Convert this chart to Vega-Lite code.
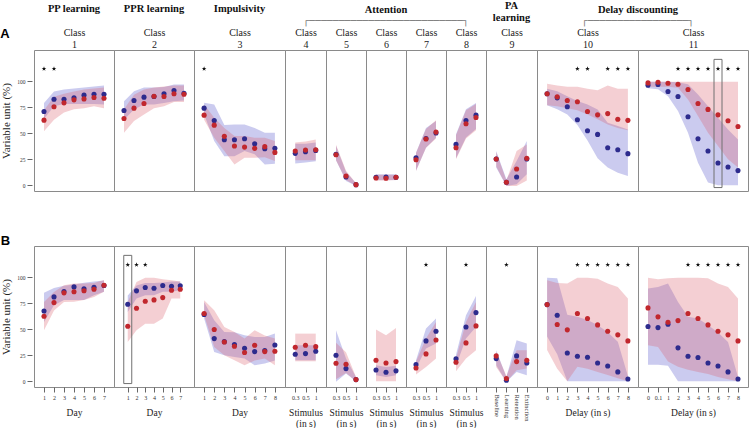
{
"$schema": "https://vega.github.io/schema/vega-lite/v6.json",
"padding": 0,
"background": "white",
"title": {"text": "A", "anchor": "start", "frame": "bounds", "font": "Liberation Sans", "fontSize": 13, "fontWeight": "bold", "color": "#000", "offset": -41},
"columns": 11,
"spacing": {"row": 55, "column": 0},
"bounds": "flush",
"config": {
 "view": {"stroke": "#8a8a8a", "strokeWidth": 1},
 "axis": {"labelFont": "Liberation Serif", "labelFontSize": 6, "labelColor": "#333", "tickColor": "#666", "tickSize": 5, "domain": false, "grid": false, "titleFont": "Liberation Serif", "titleFontSize": 9.5, "titleFontWeight": "normal", "titleColor": "#222", "labelPadding": 2, "titlePadding": 7, "labelFlush": false, "labelOverlap": false, "labelAngle": 0},
 "title": {"font": "Liberation Serif", "fontSize": 10.5, "fontWeight": "bold", "color": "#111", "anchor": "middle", "frame": "group", "offset": 13}
},
"datasets": {"d": [
{"r":"A","p":1,"day":1,"bm":70.9,"blo":64,"bhi":79,"rm":62.6,"rlo":52,"rhi":72,"s":1},
{"r":"A","p":1,"day":2,"bm":82.7,"blo":76,"bhi":90,"rm":75.4,"rlo":63,"rhi":85,"s":1},
{"r":"A","p":1,"day":3,"bm":82.7,"blo":78,"bhi":92,"rm":79.2,"rlo":70,"rhi":88},
{"r":"A","p":1,"day":4,"bm":84,"blo":78,"bhi":93,"rm":82.1,"rlo":73,"rhi":90},
{"r":"A","p":1,"day":5,"bm":86.6,"blo":78,"bhi":94,"rm":83,"rlo":74,"rhi":92},
{"r":"A","p":1,"day":6,"bm":87.5,"blo":78,"bhi":95,"rm":84.3,"rlo":76,"rhi":93},
{"r":"A","p":1,"day":7,"bm":87.5,"blo":77.6,"bhi":96,"rm":83.7,"rlo":74,"rhi":94},
{"r":"A","p":2,"day":1,"bm":71.9,"blo":63,"bhi":80.8,"rm":64.2,"rlo":50.5,"rhi":73},
{"r":"A","p":2,"day":2,"bm":81.5,"blo":72.8,"bhi":90.4,"rm":74.1,"rlo":61.7,"rhi":87},
{"r":"A","p":2,"day":3,"bm":84.7,"blo":77.6,"bhi":94,"rm":78.6,"rlo":68,"rhi":92},
{"r":"A","p":2,"day":4,"bm":85.3,"blo":77.6,"bhi":94,"rm":85.6,"rlo":74,"rhi":94},
{"r":"A","p":2,"day":5,"bm":87.9,"blo":79,"bhi":94.5,"rm":85.3,"rlo":76,"rhi":95},
{"r":"A","p":2,"day":6,"bm":91,"blo":80.8,"bhi":96.8,"rm":87.9,"rlo":80,"rhi":96},
{"r":"A","p":2,"day":7,"bm":88.5,"blo":81.5,"bhi":96.8,"rm":87.5,"rlo":80,"rhi":96},
{"r":"A","p":3,"day":1,"bm":74.1,"blo":68,"bhi":79.2,"rm":67.4,"rlo":63,"rhi":77.6,"s":1},
{"r":"A","p":3,"day":2,"bm":62.3,"blo":42.5,"bhi":77.6,"rm":57.8,"rlo":45.7,"rhi":64.9},
{"r":"A","p":3,"day":3,"bm":43.8,"blo":28,"bhi":58,"rm":47,"rlo":33,"rhi":55},
{"r":"A","p":3,"day":4,"bm":43.8,"blo":28,"bhi":58.5,"rm":37.7,"rlo":20,"rhi":47.3},
{"r":"A","p":3,"day":5,"bm":44.7,"blo":33,"bhi":58.5,"rm":36.7,"rlo":26.5,"rhi":47.3},
{"r":"A","p":3,"day":6,"bm":39.9,"blo":29.7,"bhi":55,"rm":35.5,"rlo":26.5,"rhi":45.7},
{"r":"A","p":3,"day":7,"bm":35.1,"blo":20,"bhi":50.5,"rm":37.1,"rlo":27,"rhi":45.7},
{"r":"A","p":3,"day":8,"bm":35.5,"blo":20.8,"bhi":50.5,"rm":31.6,"rlo":23.3,"rhi":42.5},
{"r":"A","p":4,"cat":"0.3","bm":30.7,"blo":21,"bhi":40,"rm":32.9,"rlo":24,"rhi":41},
{"r":"A","p":4,"cat":"0.5","bm":32.3,"blo":22,"bhi":40,"rm":33.9,"rlo":24,"rhi":42},
{"r":"A","p":4,"cat":"1","bm":33.5,"blo":23,"bhi":41,"rm":34.2,"rlo":24,"rhi":44},
{"r":"A","p":5,"cat":"0.3","bm":29.7,"blo":24,"bhi":38,"rm":29.4,"rlo":24,"rhi":39},
{"r":"A","p":5,"cat":"0.5","bm":8,"blo":4,"bhi":13,"rm":8.9,"rlo":5,"rhi":14},
{"r":"A","p":5,"cat":"1","bm":0.6,"blo":-0.5,"bhi":2,"rm":0.6,"rlo":-0.5,"rhi":2},
{"r":"A","p":6,"cat":"0.3","bm":7.7,"blo":5,"bhi":10.5,"rm":7,"rlo":4.5,"rhi":10},
{"r":"A","p":6,"cat":"0.5","bm":8,"blo":5,"bhi":10.5,"rm":6.7,"rlo":4.5,"rhi":10},
{"r":"A","p":6,"cat":"1","bm":7.7,"blo":5,"bhi":10.5,"rm":7.7,"rlo":5,"rhi":10},
{"r":"A","p":7,"cat":"0.3","bm":26.5,"blo":14,"bhi":31.3,"rm":24.6,"rlo":13.7,"rhi":31},
{"r":"A","p":7,"cat":"0.5","bm":45,"blo":36,"bhi":55,"rm":44.4,"rlo":36,"rhi":54},
{"r":"A","p":7,"cat":"1","bm":50.2,"blo":45.7,"bhi":61.7,"rm":51.1,"rlo":45,"rhi":62.5},
{"r":"A","p":8,"cat":"0.3","bm":39.3,"blo":26,"bhi":49,"rm":36.1,"rlo":25,"rhi":48},
{"r":"A","p":8,"cat":"0.5","bm":62.3,"blo":46,"bhi":73,"rm":59.1,"rlo":45,"rhi":72},
{"r":"A","p":8,"cat":"1","bm":67.4,"blo":54,"bhi":79,"rm":65.2,"rlo":53,"rhi":78},
{"r":"A","p":9,"cat":"Baseline","bm":25.2,"blo":17,"bhi":32.9,"rm":25.2,"rlo":18,"rhi":32},
{"r":"A","p":9,"cat":"Learning","bm":2.9,"blo":-0.6,"bhi":5.8,"rm":2.9,"rlo":-0.6,"rhi":4.5},
{"r":"A","p":9,"cat":"Retention","bm":8,"blo":1,"bhi":23.3,"rm":15.7,"rlo":-0.6,"rhi":33},
{"r":"A","p":9,"cat":"Extinction","bm":25.2,"blo":10.5,"bhi":42.5,"rm":25.9,"rlo":4.5,"rhi":39.3},
{"r":"A","p":10,"day":0,"bm":87.9,"blo":77,"bhi":92.7,"rm":87.9,"rlo":77,"rhi":97.5},
{"r":"A","p":10,"day":1,"bm":84,"blo":73,"bhi":90.4,"rm":85,"rlo":76,"rhi":95.9},
{"r":"A","p":10,"day":2,"bm":75.4,"blo":68,"bhi":85.6,"rm":81.5,"rlo":74,"rhi":94.6},
{"r":"A","p":10,"day":3,"bm":62.9,"blo":58,"bhi":80.9,"rm":80.2,"rlo":72,"rhi":94.6,"s":1},
{"r":"A","p":10,"day":4,"bm":52.4,"blo":43,"bhi":77.7,"rm":70.9,"rlo":68,"rhi":92.7,"s":1},
{"r":"A","p":10,"day":5,"bm":48.9,"blo":26,"bhi":72.9,"rm":67.7,"rlo":63.4,"rhi":91.4},
{"r":"A","p":10,"day":6,"bm":36.1,"blo":17,"bhi":60,"rm":68.9,"rlo":58.5,"rhi":95.9,"s":1},
{"r":"A","p":10,"day":7,"bm":34.2,"blo":12,"bhi":56.9,"rm":63.4,"rlo":55,"rhi":92.7,"s":1},
{"r":"A","p":10,"day":8,"bm":30.4,"blo":9,"bhi":53.7,"rm":62.4,"rlo":53,"rhi":92.7,"s":1},
{"r":"A","p":11,"cat":"0","bm":96.2,"blo":93.3,"bhi":99.4,"rm":98.4,"rlo":94.6,"rhi":99.6},
{"r":"A","p":11,"cat":"0.1","bm":96.8,"blo":92.3,"bhi":99.4,"rm":99,"rlo":94.6,"rhi":99.6},
{"r":"A","p":11,"cat":"1","bm":90.1,"blo":85.6,"bhi":99.4,"rm":98.1,"rlo":94.6,"rhi":99.6},
{"r":"A","p":11,"cat":"2","bm":85.3,"blo":71.3,"bhi":99,"rm":97.1,"rlo":93.7,"rhi":99.6,"s":1},
{"r":"A","p":11,"cat":"3","bm":65.8,"blo":50.5,"bhi":97,"rm":92,"rlo":82.5,"rhi":99.6,"s":1},
{"r":"A","p":11,"cat":"4","bm":44.7,"blo":21.7,"bhi":87.2,"rm":78.6,"rlo":66.5,"rhi":99.6,"s":1},
{"r":"A","p":11,"cat":"5","bm":32.9,"blo":2.6,"bhi":76,"rm":72.9,"rlo":50.5,"rhi":99.6,"s":1},
{"r":"A","p":11,"cat":"6","bm":21.4,"blo":0,"bhi":64.9,"rm":67.7,"rlo":37.7,"rhi":99.6,"s":1,"k":1},
{"r":"A","p":11,"cat":"7","bm":17.6,"blo":0,"bhi":53.7,"rm":62,"rlo":24.9,"rhi":99.6,"s":1},
{"r":"A","p":11,"cat":"8","bm":14.1,"blo":0,"bhi":44.1,"rm":56.5,"rlo":17,"rhi":99.6,"s":1},
{"r":"B","p":1,"day":1,"bm":67.6,"blo":57,"bhi":85,"rm":62.5,"rlo":49,"rhi":76.3},
{"r":"B","p":1,"day":2,"bm":81.1,"blo":73,"bhi":89.7,"rm":75.6,"rlo":68,"rhi":85.9},
{"r":"B","p":1,"day":3,"bm":86.2,"blo":78,"bhi":91.7,"rm":85,"rlo":76.3,"rhi":92.3},
{"r":"B","p":1,"day":4,"bm":90.7,"blo":78,"bhi":93,"rm":86,"rlo":76.5,"rhi":94},
{"r":"B","p":1,"day":5,"bm":88.8,"blo":78,"bhi":94.8,"rm":87,"rlo":78,"rhi":94},
{"r":"B","p":1,"day":6,"bm":90.4,"blo":82.7,"bhi":96,"rm":88.5,"rlo":81.1,"rhi":94.5},
{"r":"B","p":1,"day":7,"bm":92,"blo":86,"bhi":96.8,"rm":92.3,"rlo":86,"rhi":97.4},
{"r":"B","p":2,"day":1,"bm":74,"blo":66.6,"bhi":82.4,"rm":52.9,"rlo":37.8,"rhi":76.3,"s":1,"k":1},
{"r":"B","p":2,"day":2,"bm":86.9,"blo":79.5,"bhi":92,"rm":70.2,"rlo":49,"rhi":95.5,"s":1},
{"r":"B","p":2,"day":3,"bm":90.1,"blo":82.7,"bhi":94.5,"rm":76.9,"rlo":55.4,"rhi":99.4,"s":1},
{"r":"B","p":2,"day":4,"bm":89.4,"blo":82.7,"bhi":94.5,"rm":78.2,"rlo":55.4,"rhi":99.4},
{"r":"B","p":2,"day":5,"bm":92,"blo":86,"bhi":95,"rm":80.4,"rlo":60.3,"rhi":98},
{"r":"B","p":2,"day":6,"bm":91.3,"blo":86,"bhi":96,"rm":87.5,"rlo":79.5,"rhi":97.1},
{"r":"B","p":2,"day":7,"bm":91.7,"blo":87.5,"bhi":96,"rm":88.5,"rlo":79.5,"rhi":96},
{"r":"B","p":3,"day":1,"bm":64.1,"blo":60.3,"bhi":76.3,"rm":65.1,"rlo":63.5,"rhi":77.9},
{"r":"B","p":3,"day":2,"bm":41,"blo":28.2,"bhi":58.7,"rm":49.7,"rlo":33,"rhi":68.3},
{"r":"B","p":3,"day":3,"bm":38.1,"blo":25,"bhi":47.4,"rm":37.8,"rlo":25,"rhi":52.2},
{"r":"B","p":3,"day":4,"bm":35.3,"blo":23.4,"bhi":47,"rm":33.7,"rlo":20.2,"rhi":47.4},
{"r":"B","p":3,"day":5,"bm":31.7,"blo":21.8,"bhi":44.2,"rm":27.6,"rlo":15.4,"rhi":41},
{"r":"B","p":3,"day":6,"bm":28.5,"blo":15.4,"bhi":42.6,"rm":34.6,"rlo":20,"rhi":49},
{"r":"B","p":3,"day":7,"bm":29.5,"blo":17,"bhi":42.6,"rm":28.5,"rlo":21.8,"rhi":44},
{"r":"B","p":3,"day":8,"bm":34.9,"blo":20,"bhi":45.8,"rm":28.8,"rlo":15.4,"rhi":41},
{"r":"B","p":4,"cat":"0.3","bm":26,"blo":20.2,"bhi":34.6,"rm":32.7,"rlo":19.2,"rhi":45.8},
{"r":"B","p":4,"cat":"0.5","bm":26.6,"blo":20.2,"bhi":34.6,"rm":34.6,"rlo":19.2,"rhi":45.8},
{"r":"B","p":4,"cat":"1","bm":28.8,"blo":20.2,"bhi":34.6,"rm":33.3,"rlo":19.2,"rhi":45.8},
{"r":"B","p":5,"cat":"0.3","bm":25,"blo":-0.5,"bhi":49,"rm":17.3,"rlo":2,"rhi":37},
{"r":"B","p":5,"cat":"0.5","bm":12.2,"blo":7.4,"bhi":21.8,"rm":16.3,"rlo":8,"rhi":28},
{"r":"B","p":5,"cat":"1","bm":1.6,"blo":0,"bhi":4.2,"rm":1.6,"rlo":0,"rhi":4},
{"r":"B","p":6,"cat":"0.3","bm":10.9,"blo":5.8,"bhi":15.4,"rm":20.2,"rlo":0,"rhi":49.7},
{"r":"B","p":6,"cat":"0.5","bm":8.7,"blo":4.2,"bhi":13.8,"rm":17.6,"rlo":0,"rhi":44.2},
{"r":"B","p":6,"cat":"1","bm":10,"blo":5.8,"bhi":15,"rm":18.9,"rlo":0,"rhi":51.3},
{"r":"B","p":7,"cat":"0.3","bm":16,"blo":12.2,"bhi":20.2,"rm":12.8,"rlo":6.4,"rhi":19},
{"r":"B","p":7,"cat":"0.5","bm":38.8,"blo":31.4,"bhi":50.6,"rm":26.3,"rlo":13.8,"rhi":41,"s":1},
{"r":"B","p":7,"cat":"1","bm":48.1,"blo":36.2,"bhi":60.3,"rm":39.7,"rlo":21.8,"rhi":57},
{"r":"B","p":8,"cat":"0.3","bm":21.5,"blo":14.7,"bhi":25.6,"rm":18.3,"rlo":9.6,"rhi":22},
{"r":"B","p":8,"cat":"0.5","bm":52.2,"blo":41,"bhi":63.5,"rm":36.9,"rlo":21.8,"rhi":57,"s":1},
{"r":"B","p":8,"cat":"1","bm":66,"blo":52.2,"bhi":82,"rm":53.2,"rlo":29.8,"rhi":76.3},
{"r":"B","p":9,"cat":"Baseline","bm":21.8,"blo":15.4,"bhi":29.8,"rm":24.4,"rlo":13.8,"rhi":28.2},
{"r":"B","p":9,"cat":"Learning","bm":1,"blo":-0.6,"bhi":4.2,"rm":2.6,"rlo":-0.6,"rhi":5,"s":1},
{"r":"B","p":9,"cat":"Retention","bm":24.4,"blo":9,"bhi":39.4,"rm":18.9,"rlo":10.6,"rhi":29.8},
{"r":"B","p":9,"cat":"Extinction","bm":17.6,"blo":5.8,"bhi":36.2,"rm":20.2,"rlo":12.2,"rhi":29.8},
{"r":"B","p":10,"day":0,"bm":73.7,"blo":43,"bhi":99.4,"rm":73.7,"rlo":30,"rhi":97},
{"r":"B","p":10,"day":1,"bm":63.5,"blo":26,"bhi":99,"rm":54.5,"rlo":12,"rhi":94.5},
{"r":"B","p":10,"day":2,"bm":27.2,"blo":0,"bhi":64,"rm":49.4,"rlo":0,"rhi":94},
{"r":"B","p":10,"day":3,"bm":24,"blo":0,"bhi":62,"rm":65.1,"rlo":14,"rhi":99.4,"s":1},
{"r":"B","p":10,"day":4,"bm":23.1,"blo":0,"bhi":59,"rm":60.3,"rlo":12,"rhi":99.4,"s":1},
{"r":"B","p":10,"day":5,"bm":17.6,"blo":0,"bhi":54,"rm":54.2,"rlo":9,"rhi":98.5,"s":1},
{"r":"B","p":10,"day":6,"bm":14.7,"blo":0,"bhi":47,"rm":48.1,"rlo":6,"rhi":94,"s":1},
{"r":"B","p":10,"day":7,"bm":9,"blo":0,"bhi":38,"rm":44.6,"rlo":3,"rhi":90.7,"s":1},
{"r":"B","p":10,"day":8,"bm":2.2,"blo":0,"bhi":5,"rm":38.8,"rlo":0,"rhi":79.5,"s":1},
{"r":"B","p":11,"cat":"0","bm":52.6,"blo":16,"bhi":89.2,"rm":70.5,"rlo":34.6,"rhi":99.4},
{"r":"B","p":11,"cat":"0.1","bm":51.6,"blo":16,"bhi":90.7,"rm":61.9,"rlo":33,"rhi":98},
{"r":"B","p":11,"cat":"1","bm":54.8,"blo":15,"bhi":94,"rm":56.7,"rlo":19,"rhi":99},
{"r":"B","p":11,"cat":"2","bm":32.1,"blo":0,"bhi":76.3,"rm":58.3,"rlo":14,"rhi":99.4},
{"r":"B","p":11,"cat":"3","bm":24,"blo":0,"bhi":62,"rm":65.1,"rlo":11,"rhi":99.4,"s":1},
{"r":"B","p":11,"cat":"4","bm":22.8,"blo":0,"bhi":60.3,"rm":60.3,"rlo":9,"rhi":99.4,"s":1},
{"r":"B","p":11,"cat":"5","bm":17.6,"blo":0,"bhi":54,"rm":54.2,"rlo":7,"rhi":99,"s":1},
{"r":"B","p":11,"cat":"6","bm":14.7,"blo":0,"bhi":46.8,"rm":48.1,"rlo":4,"rhi":94,"s":1},
{"r":"B","p":11,"cat":"7","bm":9,"blo":0,"bhi":37.8,"rm":44.6,"rlo":2,"rhi":90.7,"s":1},
{"r":"B","p":11,"cat":"8","bm":2.2,"blo":0,"bhi":4.2,"rm":38.8,"rlo":0,"rhi":79.5,"s":1}
]},
"concat": [
  {"width": 80, "height": 141, "title": {"text": "PP learning"},
   "data": {"name": "d"}, "transform": [{"filter": "datum.r=='A' && datum.p==1"}],
   "encoding": {"x": {"field": "day", "type": "quantitative", "scale": {"domain": [0, 8], "nice": false, "zero": false}, "axis": {"orient": "top", "labels": false, "ticks": false, "domain": false, "title": ["Class", "1"], "titlePadding": 1, "titleFontSize": 10, "titleLineHeight": 12}}},
   "layer": [
    {"mark": {"type": "area", "color": "#6a6ad2", "opacity": 0.35}, "encoding": {"y": {"field": "blo", "type": "quantitative", "stack": null, "scale": {"domain": [-5.5, 130], "nice": false, "zero": false}, "axis": {"values": [0, 25, 50, 75, 100], "title": "Variable unit (%)", "offset": 2, "labelFontSize": 5.5, "titleFontSize": 11, "titlePadding": 5}}, "y2": {"field": "bhi"}}},
    {"mark": {"type": "area", "color": "#d9606e", "opacity": 0.3}, "encoding": {"y": {"field": "rlo", "type": "quantitative", "stack": null, "scale": {"domain": [-5.5, 130], "nice": false, "zero": false}, "axis": {"values": [0, 25, 50, 75, 100], "title": "Variable unit (%)", "offset": 2, "labelFontSize": 5.5, "titleFontSize": 11, "titlePadding": 5}}, "y2": {"field": "rhi"}}},
    {"mark": {"type": "circle", "color": "#2d2b8d", "size": 26, "opacity": 1}, "encoding": {"y": {"field": "bm", "type": "quantitative", "scale": {"domain": [-5.5, 130], "nice": false, "zero": false}, "axis": {"values": [0, 25, 50, 75, 100], "title": "Variable unit (%)", "offset": 2, "labelFontSize": 5.5, "titleFontSize": 11, "titlePadding": 5}}}},
    {"mark": {"type": "circle", "color": "#c1272d", "size": 26, "opacity": 1}, "encoding": {"y": {"field": "rm", "type": "quantitative", "scale": {"domain": [-5.5, 130], "nice": false, "zero": false}, "axis": {"values": [0, 25, 50, 75, 100], "title": "Variable unit (%)", "offset": 2, "labelFontSize": 5.5, "titleFontSize": 11, "titlePadding": 5}}}},
    {"transform": [{"filter": "datum.s==1"}], "mark": {"type": "point", "shape": "M0,-1L0.2245,-0.309L0.951,-0.309L0.363,0.118L0.588,0.809L0,0.382L-0.588,0.809L-0.363,0.118L-0.951,-0.309L-0.2245,-0.309Z", "filled": true, "color": "#111", "size": 24, "opacity": 1}, "encoding": {"y": {"datum": 112, "type": "quantitative", "scale": {"domain": [-5.5, 130], "nice": false, "zero": false}, "axis": {"values": [0, 25, 50, 75, 100], "title": "Variable unit (%)", "offset": 2, "labelFontSize": 5.5, "titleFontSize": 11, "titlePadding": 5}}}}
   ]},
  {"width": 80, "height": 141, "title": {"text": "PPR learning"},
   "data": {"name": "d"}, "transform": [{"filter": "datum.r=='A' && datum.p==2"}],
   "encoding": {"x": {"field": "day", "type": "quantitative", "scale": {"domain": [0, 8], "nice": false, "zero": false}, "axis": {"orient": "top", "labels": false, "ticks": false, "domain": false, "title": ["Class", "2"], "titlePadding": 1, "titleFontSize": 10, "titleLineHeight": 12}}},
   "layer": [
    {"mark": {"type": "area", "color": "#6a6ad2", "opacity": 0.35}, "encoding": {"y": {"field": "blo", "type": "quantitative", "stack": null, "scale": {"domain": [-5.5, 130], "nice": false, "zero": false}, "axis": null}, "y2": {"field": "bhi"}}},
    {"mark": {"type": "area", "color": "#d9606e", "opacity": 0.3}, "encoding": {"y": {"field": "rlo", "type": "quantitative", "stack": null, "scale": {"domain": [-5.5, 130], "nice": false, "zero": false}, "axis": null}, "y2": {"field": "rhi"}}},
    {"mark": {"type": "circle", "color": "#2d2b8d", "size": 26, "opacity": 1}, "encoding": {"y": {"field": "bm", "type": "quantitative", "scale": {"domain": [-5.5, 130], "nice": false, "zero": false}, "axis": null}}},
    {"mark": {"type": "circle", "color": "#c1272d", "size": 26, "opacity": 1}, "encoding": {"y": {"field": "rm", "type": "quantitative", "scale": {"domain": [-5.5, 130], "nice": false, "zero": false}, "axis": null}}}
   ]},
  {"width": 91, "height": 141, "title": {"text": "Impulsivity"},
   "data": {"name": "d"}, "transform": [{"filter": "datum.r=='A' && datum.p==3"}],
   "encoding": {"x": {"field": "day", "type": "quantitative", "scale": {"domain": [0, 9], "nice": false, "zero": false}, "axis": {"orient": "top", "labels": false, "ticks": false, "domain": false, "title": ["Class", "3"], "titlePadding": 1, "titleFontSize": 10, "titleLineHeight": 12}}},
   "layer": [
    {"mark": {"type": "area", "color": "#6a6ad2", "opacity": 0.35}, "encoding": {"y": {"field": "blo", "type": "quantitative", "stack": null, "scale": {"domain": [-5.5, 130], "nice": false, "zero": false}, "axis": null}, "y2": {"field": "bhi"}}},
    {"mark": {"type": "area", "color": "#d9606e", "opacity": 0.3}, "encoding": {"y": {"field": "rlo", "type": "quantitative", "stack": null, "scale": {"domain": [-5.5, 130], "nice": false, "zero": false}, "axis": null}, "y2": {"field": "rhi"}}},
    {"mark": {"type": "circle", "color": "#2d2b8d", "size": 26, "opacity": 1}, "encoding": {"y": {"field": "bm", "type": "quantitative", "scale": {"domain": [-5.5, 130], "nice": false, "zero": false}, "axis": null}}},
    {"mark": {"type": "circle", "color": "#c1272d", "size": 26, "opacity": 1}, "encoding": {"y": {"field": "rm", "type": "quantitative", "scale": {"domain": [-5.5, 130], "nice": false, "zero": false}, "axis": null}}},
    {"transform": [{"filter": "datum.s==1"}], "mark": {"type": "point", "shape": "M0,-1L0.2245,-0.309L0.951,-0.309L0.363,0.118L0.588,0.809L0,0.382L-0.588,0.809L-0.363,0.118L-0.951,-0.309L-0.2245,-0.309Z", "filled": true, "color": "#111", "size": 24, "opacity": 1}, "encoding": {"y": {"datum": 112, "type": "quantitative", "scale": {"domain": [-5.5, 130], "nice": false, "zero": false}, "axis": null}}}
   ]},
  {"width": 41, "height": 141,
   "data": {"name": "d"}, "transform": [{"filter": "datum.r=='A' && datum.p==4"}],
   "encoding": {"x": {"field": "cat", "type": "ordinal", "sort": ["0.3", "0.5", "1"], "scale": {"type": "point", "padding": 1}, "axis": {"orient": "top", "labels": false, "ticks": false, "domain": false, "title": ["Class", "4"], "titlePadding": 1, "titleFontSize": 10, "titleLineHeight": 12}}},
   "layer": [
    {"mark": {"type": "area", "color": "#6a6ad2", "opacity": 0.35}, "encoding": {"y": {"field": "blo", "type": "quantitative", "stack": null, "scale": {"domain": [-5.5, 130], "nice": false, "zero": false}, "axis": null}, "y2": {"field": "bhi"}}},
    {"mark": {"type": "area", "color": "#d9606e", "opacity": 0.3}, "encoding": {"y": {"field": "rlo", "type": "quantitative", "stack": null, "scale": {"domain": [-5.5, 130], "nice": false, "zero": false}, "axis": null}, "y2": {"field": "rhi"}}},
    {"mark": {"type": "circle", "color": "#2d2b8d", "size": 26, "opacity": 1}, "encoding": {"y": {"field": "bm", "type": "quantitative", "scale": {"domain": [-5.5, 130], "nice": false, "zero": false}, "axis": null}}},
    {"mark": {"type": "circle", "color": "#c1272d", "size": 26, "opacity": 1}, "encoding": {"y": {"field": "rm", "type": "quantitative", "scale": {"domain": [-5.5, 130], "nice": false, "zero": false}, "axis": null}}}
   ]},
  {"width": 40, "height": 141,
   "data": {"name": "d"}, "transform": [{"filter": "datum.r=='A' && datum.p==5"}],
   "encoding": {"x": {"field": "cat", "type": "ordinal", "sort": ["0.3", "0.5", "1"], "scale": {"type": "point", "padding": 1}, "axis": {"orient": "top", "labels": false, "ticks": false, "domain": false, "title": ["Class", "5"], "titlePadding": 1, "titleFontSize": 10, "titleLineHeight": 12}}},
   "layer": [
    {"mark": {"type": "area", "color": "#6a6ad2", "opacity": 0.35}, "encoding": {"y": {"field": "blo", "type": "quantitative", "stack": null, "scale": {"domain": [-5.5, 130], "nice": false, "zero": false}, "axis": null}, "y2": {"field": "bhi"}}},
    {"mark": {"type": "area", "color": "#d9606e", "opacity": 0.3}, "encoding": {"y": {"field": "rlo", "type": "quantitative", "stack": null, "scale": {"domain": [-5.5, 130], "nice": false, "zero": false}, "axis": null}, "y2": {"field": "rhi"}}},
    {"mark": {"type": "circle", "color": "#2d2b8d", "size": 26, "opacity": 1}, "encoding": {"y": {"field": "bm", "type": "quantitative", "scale": {"domain": [-5.5, 130], "nice": false, "zero": false}, "axis": null}}},
    {"mark": {"type": "circle", "color": "#c1272d", "size": 26, "opacity": 1}, "encoding": {"y": {"field": "rm", "type": "quantitative", "scale": {"domain": [-5.5, 130], "nice": false, "zero": false}, "axis": null}}}
   ]},
  {"width": 40, "height": 141, "title": {"text": "Attention", "subtitle": "┌──────────────────────────┐", "subtitleFont": "DejaVu Sans Mono", "subtitleFontSize": 9.84, "subtitleColor": "#777", "subtitlePadding": 1, "offset": 1},
   "data": {"name": "d"}, "transform": [{"filter": "datum.r=='A' && datum.p==6"}],
   "encoding": {"x": {"field": "cat", "type": "ordinal", "sort": ["0.3", "0.5", "1"], "scale": {"type": "point", "padding": 1}, "axis": {"orient": "top", "labels": false, "ticks": false, "domain": false, "title": ["Class", "6"], "titlePadding": 1, "titleFontSize": 10, "titleLineHeight": 12}}},
   "layer": [
    {"mark": {"type": "area", "color": "#6a6ad2", "opacity": 0.35}, "encoding": {"y": {"field": "blo", "type": "quantitative", "stack": null, "scale": {"domain": [-5.5, 130], "nice": false, "zero": false}, "axis": null}, "y2": {"field": "bhi"}}},
    {"mark": {"type": "area", "color": "#d9606e", "opacity": 0.3}, "encoding": {"y": {"field": "rlo", "type": "quantitative", "stack": null, "scale": {"domain": [-5.5, 130], "nice": false, "zero": false}, "axis": null}, "y2": {"field": "rhi"}}},
    {"mark": {"type": "circle", "color": "#2d2b8d", "size": 26, "opacity": 1}, "encoding": {"y": {"field": "bm", "type": "quantitative", "scale": {"domain": [-5.5, 130], "nice": false, "zero": false}, "axis": null}}},
    {"mark": {"type": "circle", "color": "#c1272d", "size": 26, "opacity": 1}, "encoding": {"y": {"field": "rm", "type": "quantitative", "scale": {"domain": [-5.5, 130], "nice": false, "zero": false}, "axis": null}}}
   ]},
  {"width": 40, "height": 141,
   "data": {"name": "d"}, "transform": [{"filter": "datum.r=='A' && datum.p==7"}],
   "encoding": {"x": {"field": "cat", "type": "ordinal", "sort": ["0.3", "0.5", "1"], "scale": {"type": "point", "padding": 1}, "axis": {"orient": "top", "labels": false, "ticks": false, "domain": false, "title": ["Class", "7"], "titlePadding": 1, "titleFontSize": 10, "titleLineHeight": 12}}},
   "layer": [
    {"mark": {"type": "area", "color": "#6a6ad2", "opacity": 0.35}, "encoding": {"y": {"field": "blo", "type": "quantitative", "stack": null, "scale": {"domain": [-5.5, 130], "nice": false, "zero": false}, "axis": null}, "y2": {"field": "bhi"}}},
    {"mark": {"type": "area", "color": "#d9606e", "opacity": 0.3}, "encoding": {"y": {"field": "rlo", "type": "quantitative", "stack": null, "scale": {"domain": [-5.5, 130], "nice": false, "zero": false}, "axis": null}, "y2": {"field": "rhi"}}},
    {"mark": {"type": "circle", "color": "#2d2b8d", "size": 26, "opacity": 1}, "encoding": {"y": {"field": "bm", "type": "quantitative", "scale": {"domain": [-5.5, 130], "nice": false, "zero": false}, "axis": null}}},
    {"mark": {"type": "circle", "color": "#c1272d", "size": 26, "opacity": 1}, "encoding": {"y": {"field": "rm", "type": "quantitative", "scale": {"domain": [-5.5, 130], "nice": false, "zero": false}, "axis": null}}}
   ]},
  {"width": 40, "height": 141,
   "data": {"name": "d"}, "transform": [{"filter": "datum.r=='A' && datum.p==8"}],
   "encoding": {"x": {"field": "cat", "type": "ordinal", "sort": ["0.3", "0.5", "1"], "scale": {"type": "point", "padding": 1}, "axis": {"orient": "top", "labels": false, "ticks": false, "domain": false, "title": ["Class", "8"], "titlePadding": 1, "titleFontSize": 10, "titleLineHeight": 12}}},
   "layer": [
    {"mark": {"type": "area", "color": "#6a6ad2", "opacity": 0.35}, "encoding": {"y": {"field": "blo", "type": "quantitative", "stack": null, "scale": {"domain": [-5.5, 130], "nice": false, "zero": false}, "axis": null}, "y2": {"field": "bhi"}}},
    {"mark": {"type": "area", "color": "#d9606e", "opacity": 0.3}, "encoding": {"y": {"field": "rlo", "type": "quantitative", "stack": null, "scale": {"domain": [-5.5, 130], "nice": false, "zero": false}, "axis": null}, "y2": {"field": "rhi"}}},
    {"mark": {"type": "circle", "color": "#2d2b8d", "size": 26, "opacity": 1}, "encoding": {"y": {"field": "bm", "type": "quantitative", "scale": {"domain": [-5.5, 130], "nice": false, "zero": false}, "axis": null}}},
    {"mark": {"type": "circle", "color": "#c1272d", "size": 26, "opacity": 1}, "encoding": {"y": {"field": "rm", "type": "quantitative", "scale": {"domain": [-5.5, 130], "nice": false, "zero": false}, "axis": null}}}
   ]},
  {"width": 51, "height": 141, "title": {"text": ["PA", "learning"], "lineHeight": 12, "offset": 4},
   "data": {"name": "d"}, "transform": [{"filter": "datum.r=='A' && datum.p==9"}],
   "encoding": {"x": {"field": "cat", "type": "ordinal", "sort": ["Baseline", "Learning", "Retention", "Extinction"], "scale": {"type": "point", "padding": 1}, "axis": {"orient": "top", "labels": false, "ticks": false, "domain": false, "title": ["Class", "9"], "titlePadding": 1, "titleFontSize": 10, "titleLineHeight": 12}}},
   "layer": [
    {"mark": {"type": "area", "color": "#6a6ad2", "opacity": 0.35}, "encoding": {"y": {"field": "blo", "type": "quantitative", "stack": null, "scale": {"domain": [-5.5, 130], "nice": false, "zero": false}, "axis": null}, "y2": {"field": "bhi"}}},
    {"mark": {"type": "area", "color": "#d9606e", "opacity": 0.3}, "encoding": {"y": {"field": "rlo", "type": "quantitative", "stack": null, "scale": {"domain": [-5.5, 130], "nice": false, "zero": false}, "axis": null}, "y2": {"field": "rhi"}}},
    {"mark": {"type": "circle", "color": "#2d2b8d", "size": 26, "opacity": 1}, "encoding": {"y": {"field": "bm", "type": "quantitative", "scale": {"domain": [-5.5, 130], "nice": false, "zero": false}, "axis": null}}},
    {"mark": {"type": "circle", "color": "#c1272d", "size": 26, "opacity": 1}, "encoding": {"y": {"field": "rm", "type": "quantitative", "scale": {"domain": [-5.5, 130], "nice": false, "zero": false}, "axis": null}}}
   ]},
  {"width": 101, "height": 141, "title": {"text": "Delay discounting", "subtitle": "┌─────────────────┐", "anchor": "end", "align": "center", "subtitleFont": "DejaVu Sans Mono", "subtitleFontSize": 9.84, "subtitleColor": "#777", "subtitlePadding": 1, "offset": 1},
   "data": {"name": "d"}, "transform": [{"filter": "datum.r=='A' && datum.p==10"}],
   "encoding": {"x": {"field": "day", "type": "quantitative", "scale": {"domain": [-1, 9], "nice": false, "zero": false}, "axis": {"orient": "top", "labels": false, "ticks": false, "domain": false, "title": ["Class", "10"], "titlePadding": 1, "titleFontSize": 10, "titleLineHeight": 12}}},
   "layer": [
    {"mark": {"type": "area", "color": "#6a6ad2", "opacity": 0.35}, "encoding": {"y": {"field": "blo", "type": "quantitative", "stack": null, "scale": {"domain": [-5.5, 130], "nice": false, "zero": false}, "axis": null}, "y2": {"field": "bhi"}}},
    {"mark": {"type": "area", "color": "#d9606e", "opacity": 0.3}, "encoding": {"y": {"field": "rlo", "type": "quantitative", "stack": null, "scale": {"domain": [-5.5, 130], "nice": false, "zero": false}, "axis": null}, "y2": {"field": "rhi"}}},
    {"mark": {"type": "circle", "color": "#2d2b8d", "size": 26, "opacity": 1}, "encoding": {"y": {"field": "bm", "type": "quantitative", "scale": {"domain": [-5.5, 130], "nice": false, "zero": false}, "axis": null}}},
    {"mark": {"type": "circle", "color": "#c1272d", "size": 26, "opacity": 1}, "encoding": {"y": {"field": "rm", "type": "quantitative", "scale": {"domain": [-5.5, 130], "nice": false, "zero": false}, "axis": null}}},
    {"transform": [{"filter": "datum.s==1"}], "mark": {"type": "point", "shape": "M0,-1L0.2245,-0.309L0.951,-0.309L0.363,0.118L0.588,0.809L0,0.382L-0.588,0.809L-0.363,0.118L-0.951,-0.309L-0.2245,-0.309Z", "filled": true, "color": "#111", "size": 24, "opacity": 1}, "encoding": {"y": {"datum": 112, "type": "quantitative", "scale": {"domain": [-5.5, 130], "nice": false, "zero": false}, "axis": null}}}
   ]},
  {"width": 110, "height": 141,
   "data": {"name": "d"}, "transform": [{"filter": "datum.r=='A' && datum.p==11"}],
   "encoding": {"x": {"field": "cat", "type": "ordinal", "sort": ["0", "0.1", "1", "2", "3", "4", "5", "6", "7", "8"], "scale": {"type": "point", "padding": 1}, "axis": {"orient": "top", "labels": false, "ticks": false, "domain": false, "title": ["Class", "11"], "titlePadding": 1, "titleFontSize": 10, "titleLineHeight": 12}}},
   "layer": [
    {"mark": {"type": "area", "color": "#6a6ad2", "opacity": 0.35}, "encoding": {"y": {"field": "blo", "type": "quantitative", "stack": null, "scale": {"domain": [-5.5, 130], "nice": false, "zero": false}, "axis": null}, "y2": {"field": "bhi"}}},
    {"mark": {"type": "area", "color": "#d9606e", "opacity": 0.3}, "encoding": {"y": {"field": "rlo", "type": "quantitative", "stack": null, "scale": {"domain": [-5.5, 130], "nice": false, "zero": false}, "axis": null}, "y2": {"field": "rhi"}}},
    {"mark": {"type": "circle", "color": "#2d2b8d", "size": 26, "opacity": 1}, "encoding": {"y": {"field": "bm", "type": "quantitative", "scale": {"domain": [-5.5, 130], "nice": false, "zero": false}, "axis": null}}},
    {"mark": {"type": "circle", "color": "#c1272d", "size": 26, "opacity": 1}, "encoding": {"y": {"field": "rm", "type": "quantitative", "scale": {"domain": [-5.5, 130], "nice": false, "zero": false}, "axis": null}}},
    {"transform": [{"filter": "datum.s==1"}], "mark": {"type": "point", "shape": "M0,-1L0.2245,-0.309L0.951,-0.309L0.363,0.118L0.588,0.809L0,0.382L-0.588,0.809L-0.363,0.118L-0.951,-0.309L-0.2245,-0.309Z", "filled": true, "color": "#111", "size": 24, "opacity": 1}, "encoding": {"y": {"datum": 112, "type": "quantitative", "scale": {"domain": [-5.5, 130], "nice": false, "zero": false}, "axis": null}}},
    {"transform": [{"filter": "datum.k==1"}], "mark": {"type": "bar", "filled": false, "stroke": "#707070", "strokeWidth": 1, "size": 8}, "encoding": {"y": {"datum": -2.2, "type": "quantitative", "scale": {"domain": [-5.5, 130], "nice": false, "zero": false}, "axis": null}, "y2": {"datum": 121}}}
   ]},
  {"width": 80, "height": 141, "title": {"text": "B", "anchor": "start", "frame": "bounds", "font": "Liberation Sans", "fontSize": 13, "fontWeight": "bold", "color": "#000", "offset": -2},
   "data": {"name": "d"}, "transform": [{"filter": "datum.r=='B' && datum.p==1"}],
   "encoding": {"x": {"field": "day", "type": "quantitative", "scale": {"domain": [0, 8], "nice": false, "zero": false}, "axis": {"values": [1, 2, 3, 4, 5, 6, 7], "format": "d", "title": "Day"}}},
   "layer": [
    {"mark": {"type": "area", "color": "#6a6ad2", "opacity": 0.35}, "encoding": {"y": {"field": "blo", "type": "quantitative", "stack": null, "scale": {"domain": [-5.5, 130], "nice": false, "zero": false}, "axis": {"values": [0, 25, 50, 75, 100], "title": "Variable unit (%)", "offset": 2, "labelFontSize": 5.5, "titleFontSize": 11, "titlePadding": 5}}, "y2": {"field": "bhi"}}},
    {"mark": {"type": "area", "color": "#d9606e", "opacity": 0.3}, "encoding": {"y": {"field": "rlo", "type": "quantitative", "stack": null, "scale": {"domain": [-5.5, 130], "nice": false, "zero": false}, "axis": {"values": [0, 25, 50, 75, 100], "title": "Variable unit (%)", "offset": 2, "labelFontSize": 5.5, "titleFontSize": 11, "titlePadding": 5}}, "y2": {"field": "rhi"}}},
    {"mark": {"type": "circle", "color": "#2d2b8d", "size": 26, "opacity": 1}, "encoding": {"y": {"field": "bm", "type": "quantitative", "scale": {"domain": [-5.5, 130], "nice": false, "zero": false}, "axis": {"values": [0, 25, 50, 75, 100], "title": "Variable unit (%)", "offset": 2, "labelFontSize": 5.5, "titleFontSize": 11, "titlePadding": 5}}}},
    {"mark": {"type": "circle", "color": "#c1272d", "size": 26, "opacity": 1}, "encoding": {"y": {"field": "rm", "type": "quantitative", "scale": {"domain": [-5.5, 130], "nice": false, "zero": false}, "axis": {"values": [0, 25, 50, 75, 100], "title": "Variable unit (%)", "offset": 2, "labelFontSize": 5.5, "titleFontSize": 11, "titlePadding": 5}}}}
   ]},
  {"width": 80, "height": 141,
   "data": {"name": "d"}, "transform": [{"filter": "datum.r=='B' && datum.p==2"}],
   "encoding": {"x": {"field": "day", "type": "quantitative", "scale": {"domain": [0, 8], "nice": false, "zero": false}, "axis": {"values": [1, 2, 3, 4, 5, 6, 7], "format": "d", "title": "Day"}}},
   "layer": [
    {"mark": {"type": "area", "color": "#6a6ad2", "opacity": 0.35}, "encoding": {"y": {"field": "blo", "type": "quantitative", "stack": null, "scale": {"domain": [-5.5, 130], "nice": false, "zero": false}, "axis": null}, "y2": {"field": "bhi"}}},
    {"mark": {"type": "area", "color": "#d9606e", "opacity": 0.3}, "encoding": {"y": {"field": "rlo", "type": "quantitative", "stack": null, "scale": {"domain": [-5.5, 130], "nice": false, "zero": false}, "axis": null}, "y2": {"field": "rhi"}}},
    {"mark": {"type": "circle", "color": "#2d2b8d", "size": 26, "opacity": 1}, "encoding": {"y": {"field": "bm", "type": "quantitative", "scale": {"domain": [-5.5, 130], "nice": false, "zero": false}, "axis": null}}},
    {"mark": {"type": "circle", "color": "#c1272d", "size": 26, "opacity": 1}, "encoding": {"y": {"field": "rm", "type": "quantitative", "scale": {"domain": [-5.5, 130], "nice": false, "zero": false}, "axis": null}}},
    {"transform": [{"filter": "datum.s==1"}], "mark": {"type": "point", "shape": "M0,-1L0.2245,-0.309L0.951,-0.309L0.363,0.118L0.588,0.809L0,0.382L-0.588,0.809L-0.363,0.118L-0.951,-0.309L-0.2245,-0.309Z", "filled": true, "color": "#111", "size": 24, "opacity": 1}, "encoding": {"y": {"datum": 112, "type": "quantitative", "scale": {"domain": [-5.5, 130], "nice": false, "zero": false}, "axis": null}}},
    {"transform": [{"filter": "datum.k==1"}], "mark": {"type": "bar", "filled": false, "stroke": "#707070", "strokeWidth": 1, "size": 8}, "encoding": {"y": {"datum": -2.2, "type": "quantitative", "scale": {"domain": [-5.5, 130], "nice": false, "zero": false}, "axis": null}, "y2": {"datum": 121}}}
   ]},
  {"width": 91, "height": 141,
   "data": {"name": "d"}, "transform": [{"filter": "datum.r=='B' && datum.p==3"}],
   "encoding": {"x": {"field": "day", "type": "quantitative", "scale": {"domain": [0, 9], "nice": false, "zero": false}, "axis": {"values": [1, 2, 3, 4, 5, 6, 7, 8], "format": "d", "title": "Day"}}},
   "layer": [
    {"mark": {"type": "area", "color": "#6a6ad2", "opacity": 0.35}, "encoding": {"y": {"field": "blo", "type": "quantitative", "stack": null, "scale": {"domain": [-5.5, 130], "nice": false, "zero": false}, "axis": null}, "y2": {"field": "bhi"}}},
    {"mark": {"type": "area", "color": "#d9606e", "opacity": 0.3}, "encoding": {"y": {"field": "rlo", "type": "quantitative", "stack": null, "scale": {"domain": [-5.5, 130], "nice": false, "zero": false}, "axis": null}, "y2": {"field": "rhi"}}},
    {"mark": {"type": "circle", "color": "#2d2b8d", "size": 26, "opacity": 1}, "encoding": {"y": {"field": "bm", "type": "quantitative", "scale": {"domain": [-5.5, 130], "nice": false, "zero": false}, "axis": null}}},
    {"mark": {"type": "circle", "color": "#c1272d", "size": 26, "opacity": 1}, "encoding": {"y": {"field": "rm", "type": "quantitative", "scale": {"domain": [-5.5, 130], "nice": false, "zero": false}, "axis": null}}}
   ]},
  {"width": 41, "height": 141,
   "data": {"name": "d"}, "transform": [{"filter": "datum.r=='B' && datum.p==4"}],
   "encoding": {"x": {"field": "cat", "type": "ordinal", "sort": ["0.3", "0.5", "1"], "scale": {"type": "point", "padding": 1}, "axis": {"title": ["Stimulus", "(in s)"], "titleLineHeight": 11}}},
   "layer": [
    {"mark": {"type": "area", "color": "#6a6ad2", "opacity": 0.35}, "encoding": {"y": {"field": "blo", "type": "quantitative", "stack": null, "scale": {"domain": [-5.5, 130], "nice": false, "zero": false}, "axis": null}, "y2": {"field": "bhi"}}},
    {"mark": {"type": "area", "color": "#d9606e", "opacity": 0.3}, "encoding": {"y": {"field": "rlo", "type": "quantitative", "stack": null, "scale": {"domain": [-5.5, 130], "nice": false, "zero": false}, "axis": null}, "y2": {"field": "rhi"}}},
    {"mark": {"type": "circle", "color": "#2d2b8d", "size": 26, "opacity": 1}, "encoding": {"y": {"field": "bm", "type": "quantitative", "scale": {"domain": [-5.5, 130], "nice": false, "zero": false}, "axis": null}}},
    {"mark": {"type": "circle", "color": "#c1272d", "size": 26, "opacity": 1}, "encoding": {"y": {"field": "rm", "type": "quantitative", "scale": {"domain": [-5.5, 130], "nice": false, "zero": false}, "axis": null}}}
   ]},
  {"width": 40, "height": 141,
   "data": {"name": "d"}, "transform": [{"filter": "datum.r=='B' && datum.p==5"}],
   "encoding": {"x": {"field": "cat", "type": "ordinal", "sort": ["0.3", "0.5", "1"], "scale": {"type": "point", "padding": 1}, "axis": {"title": ["Stimulus", "(in s)"], "titleLineHeight": 11}}},
   "layer": [
    {"mark": {"type": "area", "color": "#6a6ad2", "opacity": 0.35}, "encoding": {"y": {"field": "blo", "type": "quantitative", "stack": null, "scale": {"domain": [-5.5, 130], "nice": false, "zero": false}, "axis": null}, "y2": {"field": "bhi"}}},
    {"mark": {"type": "area", "color": "#d9606e", "opacity": 0.3}, "encoding": {"y": {"field": "rlo", "type": "quantitative", "stack": null, "scale": {"domain": [-5.5, 130], "nice": false, "zero": false}, "axis": null}, "y2": {"field": "rhi"}}},
    {"mark": {"type": "circle", "color": "#2d2b8d", "size": 26, "opacity": 1}, "encoding": {"y": {"field": "bm", "type": "quantitative", "scale": {"domain": [-5.5, 130], "nice": false, "zero": false}, "axis": null}}},
    {"mark": {"type": "circle", "color": "#c1272d", "size": 26, "opacity": 1}, "encoding": {"y": {"field": "rm", "type": "quantitative", "scale": {"domain": [-5.5, 130], "nice": false, "zero": false}, "axis": null}}}
   ]},
  {"width": 40, "height": 141,
   "data": {"name": "d"}, "transform": [{"filter": "datum.r=='B' && datum.p==6"}],
   "encoding": {"x": {"field": "cat", "type": "ordinal", "sort": ["0.3", "0.5", "1"], "scale": {"type": "point", "padding": 1}, "axis": {"title": ["Stimulus", "(in s)"], "titleLineHeight": 11}}},
   "layer": [
    {"mark": {"type": "area", "color": "#6a6ad2", "opacity": 0.35}, "encoding": {"y": {"field": "blo", "type": "quantitative", "stack": null, "scale": {"domain": [-5.5, 130], "nice": false, "zero": false}, "axis": null}, "y2": {"field": "bhi"}}},
    {"mark": {"type": "area", "color": "#d9606e", "opacity": 0.3}, "encoding": {"y": {"field": "rlo", "type": "quantitative", "stack": null, "scale": {"domain": [-5.5, 130], "nice": false, "zero": false}, "axis": null}, "y2": {"field": "rhi"}}},
    {"mark": {"type": "circle", "color": "#2d2b8d", "size": 26, "opacity": 1}, "encoding": {"y": {"field": "bm", "type": "quantitative", "scale": {"domain": [-5.5, 130], "nice": false, "zero": false}, "axis": null}}},
    {"mark": {"type": "circle", "color": "#c1272d", "size": 26, "opacity": 1}, "encoding": {"y": {"field": "rm", "type": "quantitative", "scale": {"domain": [-5.5, 130], "nice": false, "zero": false}, "axis": null}}}
   ]},
  {"width": 40, "height": 141,
   "data": {"name": "d"}, "transform": [{"filter": "datum.r=='B' && datum.p==7"}],
   "encoding": {"x": {"field": "cat", "type": "ordinal", "sort": ["0.3", "0.5", "1"], "scale": {"type": "point", "padding": 1}, "axis": {"title": ["Stimulus", "(in s)"], "titleLineHeight": 11}}},
   "layer": [
    {"mark": {"type": "area", "color": "#6a6ad2", "opacity": 0.35}, "encoding": {"y": {"field": "blo", "type": "quantitative", "stack": null, "scale": {"domain": [-5.5, 130], "nice": false, "zero": false}, "axis": null}, "y2": {"field": "bhi"}}},
    {"mark": {"type": "area", "color": "#d9606e", "opacity": 0.3}, "encoding": {"y": {"field": "rlo", "type": "quantitative", "stack": null, "scale": {"domain": [-5.5, 130], "nice": false, "zero": false}, "axis": null}, "y2": {"field": "rhi"}}},
    {"mark": {"type": "circle", "color": "#2d2b8d", "size": 26, "opacity": 1}, "encoding": {"y": {"field": "bm", "type": "quantitative", "scale": {"domain": [-5.5, 130], "nice": false, "zero": false}, "axis": null}}},
    {"mark": {"type": "circle", "color": "#c1272d", "size": 26, "opacity": 1}, "encoding": {"y": {"field": "rm", "type": "quantitative", "scale": {"domain": [-5.5, 130], "nice": false, "zero": false}, "axis": null}}},
    {"transform": [{"filter": "datum.s==1"}], "mark": {"type": "point", "shape": "M0,-1L0.2245,-0.309L0.951,-0.309L0.363,0.118L0.588,0.809L0,0.382L-0.588,0.809L-0.363,0.118L-0.951,-0.309L-0.2245,-0.309Z", "filled": true, "color": "#111", "size": 24, "opacity": 1}, "encoding": {"y": {"datum": 112, "type": "quantitative", "scale": {"domain": [-5.5, 130], "nice": false, "zero": false}, "axis": null}}}
   ]},
  {"width": 40, "height": 141,
   "data": {"name": "d"}, "transform": [{"filter": "datum.r=='B' && datum.p==8"}],
   "encoding": {"x": {"field": "cat", "type": "ordinal", "sort": ["0.3", "0.5", "1"], "scale": {"type": "point", "padding": 1}, "axis": {"title": ["Stimulus", "(in s)"], "titleLineHeight": 11}}},
   "layer": [
    {"mark": {"type": "area", "color": "#6a6ad2", "opacity": 0.35}, "encoding": {"y": {"field": "blo", "type": "quantitative", "stack": null, "scale": {"domain": [-5.5, 130], "nice": false, "zero": false}, "axis": null}, "y2": {"field": "bhi"}}},
    {"mark": {"type": "area", "color": "#d9606e", "opacity": 0.3}, "encoding": {"y": {"field": "rlo", "type": "quantitative", "stack": null, "scale": {"domain": [-5.5, 130], "nice": false, "zero": false}, "axis": null}, "y2": {"field": "rhi"}}},
    {"mark": {"type": "circle", "color": "#2d2b8d", "size": 26, "opacity": 1}, "encoding": {"y": {"field": "bm", "type": "quantitative", "scale": {"domain": [-5.5, 130], "nice": false, "zero": false}, "axis": null}}},
    {"mark": {"type": "circle", "color": "#c1272d", "size": 26, "opacity": 1}, "encoding": {"y": {"field": "rm", "type": "quantitative", "scale": {"domain": [-5.5, 130], "nice": false, "zero": false}, "axis": null}}},
    {"transform": [{"filter": "datum.s==1"}], "mark": {"type": "point", "shape": "M0,-1L0.2245,-0.309L0.951,-0.309L0.363,0.118L0.588,0.809L0,0.382L-0.588,0.809L-0.363,0.118L-0.951,-0.309L-0.2245,-0.309Z", "filled": true, "color": "#111", "size": 24, "opacity": 1}, "encoding": {"y": {"datum": 112, "type": "quantitative", "scale": {"domain": [-5.5, 130], "nice": false, "zero": false}, "axis": null}}}
   ]},
  {"width": 51, "height": 141,
   "data": {"name": "d"}, "transform": [{"filter": "datum.r=='B' && datum.p==9"}],
   "encoding": {"x": {"field": "cat", "type": "ordinal", "sort": ["Baseline", "Learning", "Retention", "Extinction"], "scale": {"type": "point", "padding": 1}, "axis": {"title": null, "labelAngle": 90, "labelAlign": "left", "labelBaseline": "middle", "labelFontSize": 6.5}}},
   "layer": [
    {"mark": {"type": "area", "color": "#6a6ad2", "opacity": 0.35}, "encoding": {"y": {"field": "blo", "type": "quantitative", "stack": null, "scale": {"domain": [-5.5, 130], "nice": false, "zero": false}, "axis": null}, "y2": {"field": "bhi"}}},
    {"mark": {"type": "area", "color": "#d9606e", "opacity": 0.3}, "encoding": {"y": {"field": "rlo", "type": "quantitative", "stack": null, "scale": {"domain": [-5.5, 130], "nice": false, "zero": false}, "axis": null}, "y2": {"field": "rhi"}}},
    {"mark": {"type": "circle", "color": "#2d2b8d", "size": 26, "opacity": 1}, "encoding": {"y": {"field": "bm", "type": "quantitative", "scale": {"domain": [-5.5, 130], "nice": false, "zero": false}, "axis": null}}},
    {"mark": {"type": "circle", "color": "#c1272d", "size": 26, "opacity": 1}, "encoding": {"y": {"field": "rm", "type": "quantitative", "scale": {"domain": [-5.5, 130], "nice": false, "zero": false}, "axis": null}}},
    {"transform": [{"filter": "datum.s==1"}], "mark": {"type": "point", "shape": "M0,-1L0.2245,-0.309L0.951,-0.309L0.363,0.118L0.588,0.809L0,0.382L-0.588,0.809L-0.363,0.118L-0.951,-0.309L-0.2245,-0.309Z", "filled": true, "color": "#111", "size": 24, "opacity": 1}, "encoding": {"y": {"datum": 112, "type": "quantitative", "scale": {"domain": [-5.5, 130], "nice": false, "zero": false}, "axis": null}}}
   ]},
  {"width": 101, "height": 141,
   "data": {"name": "d"}, "transform": [{"filter": "datum.r=='B' && datum.p==10"}],
   "encoding": {"x": {"field": "day", "type": "quantitative", "scale": {"domain": [-1, 9], "nice": false, "zero": false}, "axis": {"values": [0, 1, 2, 3, 4, 5, 6, 7, 8], "format": "d", "title": "Delay (in s)"}}},
   "layer": [
    {"mark": {"type": "area", "color": "#6a6ad2", "opacity": 0.35}, "encoding": {"y": {"field": "blo", "type": "quantitative", "stack": null, "scale": {"domain": [-5.5, 130], "nice": false, "zero": false}, "axis": null}, "y2": {"field": "bhi"}}},
    {"mark": {"type": "area", "color": "#d9606e", "opacity": 0.3}, "encoding": {"y": {"field": "rlo", "type": "quantitative", "stack": null, "scale": {"domain": [-5.5, 130], "nice": false, "zero": false}, "axis": null}, "y2": {"field": "rhi"}}},
    {"mark": {"type": "circle", "color": "#2d2b8d", "size": 26, "opacity": 1}, "encoding": {"y": {"field": "bm", "type": "quantitative", "scale": {"domain": [-5.5, 130], "nice": false, "zero": false}, "axis": null}}},
    {"mark": {"type": "circle", "color": "#c1272d", "size": 26, "opacity": 1}, "encoding": {"y": {"field": "rm", "type": "quantitative", "scale": {"domain": [-5.5, 130], "nice": false, "zero": false}, "axis": null}}},
    {"transform": [{"filter": "datum.s==1"}], "mark": {"type": "point", "shape": "M0,-1L0.2245,-0.309L0.951,-0.309L0.363,0.118L0.588,0.809L0,0.382L-0.588,0.809L-0.363,0.118L-0.951,-0.309L-0.2245,-0.309Z", "filled": true, "color": "#111", "size": 24, "opacity": 1}, "encoding": {"y": {"datum": 112, "type": "quantitative", "scale": {"domain": [-5.5, 130], "nice": false, "zero": false}, "axis": null}}}
   ]},
  {"width": 110, "height": 141,
   "data": {"name": "d"}, "transform": [{"filter": "datum.r=='B' && datum.p==11"}],
   "encoding": {"x": {"field": "cat", "type": "ordinal", "sort": ["0", "0.1", "1", "2", "3", "4", "5", "6", "7", "8"], "scale": {"type": "point", "padding": 1}, "axis": {"title": "Delay (in s)"}}},
   "layer": [
    {"mark": {"type": "area", "color": "#6a6ad2", "opacity": 0.35}, "encoding": {"y": {"field": "blo", "type": "quantitative", "stack": null, "scale": {"domain": [-5.5, 130], "nice": false, "zero": false}, "axis": null}, "y2": {"field": "bhi"}}},
    {"mark": {"type": "area", "color": "#d9606e", "opacity": 0.3}, "encoding": {"y": {"field": "rlo", "type": "quantitative", "stack": null, "scale": {"domain": [-5.5, 130], "nice": false, "zero": false}, "axis": null}, "y2": {"field": "rhi"}}},
    {"mark": {"type": "circle", "color": "#2d2b8d", "size": 26, "opacity": 1}, "encoding": {"y": {"field": "bm", "type": "quantitative", "scale": {"domain": [-5.5, 130], "nice": false, "zero": false}, "axis": null}}},
    {"mark": {"type": "circle", "color": "#c1272d", "size": 26, "opacity": 1}, "encoding": {"y": {"field": "rm", "type": "quantitative", "scale": {"domain": [-5.5, 130], "nice": false, "zero": false}, "axis": null}}},
    {"transform": [{"filter": "datum.s==1"}], "mark": {"type": "point", "shape": "M0,-1L0.2245,-0.309L0.951,-0.309L0.363,0.118L0.588,0.809L0,0.382L-0.588,0.809L-0.363,0.118L-0.951,-0.309L-0.2245,-0.309Z", "filled": true, "color": "#111", "size": 24, "opacity": 1}, "encoding": {"y": {"datum": 112, "type": "quantitative", "scale": {"domain": [-5.5, 130], "nice": false, "zero": false}, "axis": null}}}
   ]}
]
}
